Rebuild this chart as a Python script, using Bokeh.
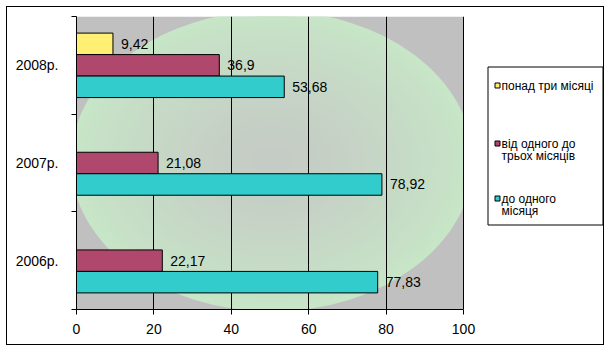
from bokeh.plotting import figure
from bokeh.models import FixedTicker, Range1d, ColumnDataSource
from bokeh.core.properties import value
from bokeh.embed import file_html
from bokeh.resources import INLINE

# ---- data ----
categories = ["2006р.", "2007р.", "2008р."]
series_names = ["понад три місяці", "від одного до трьох місяців", "до одного місяця"]
over_three = [None, None, 9.42]
one_to_three = [22.17, 21.08, 36.9]
under_one = [77.83, 78.92, 53.68]
x_ticks = [0, 20, 40, 60, 80, 100]
legend_lines = [["понад три місяці"], ["від одного до", "трьох місяців"], ["до одного", "місяця"]]

series_values = [over_three, one_to_three, under_one]
colors = ["#FFEF72", "#B0476C", "#33CCCC"]
offsets = [0.22, 0.0, -0.22]
bar_h = 0.22
FONT = "Liberation Sans"
X_MAX = 100

# page geometry (pixels)
OX, OY = 7, 7                 # canvas origin inside the 1px outer border
CW, CH = 598, 339             # canvas size
FL, FR, FT, FB = 76, 605, 16, 309   # frame edges (page px)
PLOT_R = 463                  # pixel of x = 100
ppu = (PLOT_R - FL) / X_MAX
x_end = (FR - FL) / ppu
n_cat = len(categories)


def X(px):
    return (px - FL) / ppu


def Y(py):
    return (FB - py) / (FB - FT) * n_cat


p = figure(width=CW, height=CH, x_range=Range1d(0, x_end), y_range=Range1d(0, n_cat),
           output_backend="svg", toolbar_location=None,
           min_border_left=FL - OX, min_border_right=OX + CW - FR,
           min_border_top=FT - OY, min_border_bottom=OY + CH - FB,
           margin=(6, 6, 6, 6), styles={"border": "1px solid black"})
p.background_fill_color = "white"
p.border_fill_color = "white"
p.outline_line_color = None

# plot-area background: gray with radial-gradient-like green ellipse
p.quad(left=0, right=X_MAX, bottom=0, top=n_cat, fill_color="#C0C0C0", line_color=None, level="image")
edge = (199, 229, 199)
center = (197, 203, 197)
N = 30
for i in range(N):
    k = 1.0 - i / N
    t = k ** 1.4
    c = tuple(int(round(center[j] + (edge[j] - center[j]) * t)) for j in range(3))
    p.ellipse(x=50.5, y=1.52, width=104 * k, height=3.08 * k,
              fill_color="#%02x%02x%02x" % c, line_color=None, level="image")
# mask the part right of the plot area
p.quad(left=X_MAX, right=x_end, bottom=0, top=n_cat, fill_color="white", line_color=None, level="image")

# bars + value labels
for s, vals in enumerate(series_values):
    ys, vs, lbls = [], [], []
    for i, v in enumerate(vals):
        if v is None:
            continue
        ys.append(i + 0.5 + offsets[s])
        vs.append(v)
        lbls.append(str(v).replace(".", ","))
    src = ColumnDataSource(dict(y=ys, v=vs, lbl=lbls))
    p.hbar(y="y", left=0, right="v", height=bar_h, source=src,
           fill_color=colors[s], line_color="black", line_width=1)
    p.text(x="v", y="y", text="lbl", source=src, x_offset=8,
           text_baseline="middle", text_align="left",
           text_font=value(FONT), text_font_size="14px", text_color="black")

# axes
xa = p.xaxis[0]
xa.ticker = FixedTicker(ticks=x_ticks)
xa.bounds = (0, X_MAX)
xa.axis_line_color = "black"
xa.major_tick_line_color = "black"
xa.major_tick_out = 5
xa.major_tick_in = 0
xa.minor_tick_line_color = None
xa.major_label_text_font = FONT
xa.major_label_text_font_size = "14px"
xa.major_label_text_color = "black"
xa.major_label_standoff = 9

ya = p.yaxis[0]
ya.ticker = FixedTicker(ticks=[i + 0.5 for i in range(n_cat)],
                       minor_ticks=list(range(n_cat + 1)))
ya.major_label_overrides = {i + 0.5: c for i, c in enumerate(categories)}
ya.axis_line_color = "black"
ya.major_tick_out = 0
ya.major_tick_in = 0
ya.minor_tick_out = 5
ya.minor_tick_in = 0
ya.minor_tick_line_color = "black"
ya.major_label_text_font = FONT
ya.major_label_text_font_size = "14px"
ya.major_label_text_color = "black"
ya.major_label_standoff = 13

p.ygrid.visible = False
p.xgrid.ticker = FixedTicker(ticks=x_ticks)
p.xgrid.grid_line_color = "black"
p.xgrid.grid_line_width = 1

# legend (drawn with glyphs in the area right of the plot)
p.quad(left=X(487.5), right=X(602.5), top=Y(66.5), bottom=Y(224.5),
       fill_color="white", line_color="black", line_width=1)
entry_y = [85, 143, 198]
for s, lines in enumerate(legend_lines):
    cy = entry_y[s]
    p.quad(left=X(494.5), right=X(499.5), top=Y(cy - 2.5), bottom=Y(cy + 2.5),
           fill_color=colors[s], line_color="black", line_width=1)
    for j, line in enumerate(lines):
        p.text(x=[X(501)], y=[Y(cy + 12.5 * j)], text=[line],
               text_baseline="middle", text_align="left",
               text_font=value(FONT), text_font_size="12px", text_color="black")

open("out.html", "w").write(file_html(p, INLINE))
